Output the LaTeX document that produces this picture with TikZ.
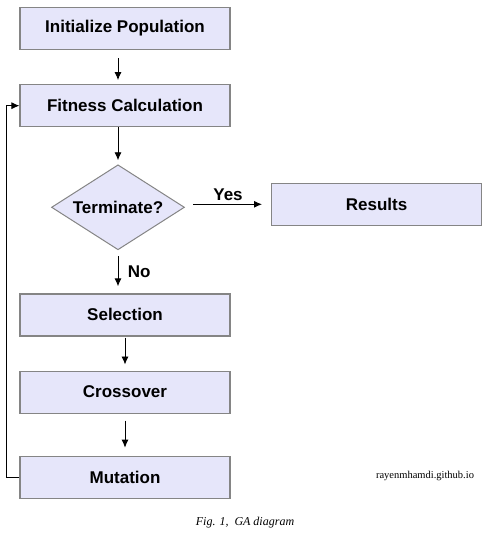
\documentclass[tikz,border=0pt]{standalone}
\usepackage{fontspec}
\setmainfont{Liberation Serif}
\setsansfont{Liberation Sans}
\usepackage{xcolor}
\definecolor{gaFill}{HTML}{E6E6FA}
\definecolor{gaLine}{HTML}{858585}
\usepackage{tikz}
\usetikzlibrary{shapes.geometric,arrows.meta,positioning}
\tikzset{process/.style={rectangle, draw=gaLine, fill=gaFill, line width=1.2pt, minimum width=210pt, minimum height=42pt, font=\sffamily\bfseries\fontsize{17}{19}\selectfont}}
\tikzset{decision/.style={diamond, draw=gaLine, fill=gaFill, line width=1pt, aspect=1.56, minimum width=133pt, minimum height=85pt, inner sep=0pt, font=\sffamily\bfseries\fontsize{17}{19}\selectfont}}
\tikzset{flow/.style={-{Latex[length=8pt,width=7pt]}, line width=0.9pt}}
\tikzset{answer/.style={font=\sffamily\bfseries\fontsize{17}{19}\selectfont}}

\begin{document}
\begin{tikzpicture}[node distance=35pt]
\useasboundingbox (0,0) rectangle (487pt,-540pt);
\node[process](init) at (125pt,-28.5pt){Initialize Population};
\node[process](fitness)[below=34pt of init]{Fitness Calculation};
\node[decision](terminate)[below=37pt of fitness, xshift=-7pt]{Terminate?};
\node[process](results)[right=86pt of terminate, yshift=3pt]{Results};
\node[process](selection)[below=43pt of terminate, xshift=7pt]{Selection};
\node[process](crossover)[below=34pt of selection]{Crossover};
\node[process](mutation)[below=42pt of crossover]{Mutation};
\node(site) at (425pt,-476pt){\fontsize{10.5}{12}\selectfont rayenmhamdi.github.io};
\node(caption) at (245pt,-523pt){\fontsize{12}{14}\selectfont\itshape Fig. 1,\ \ GA diagram};
% arrows
\draw[flow, shorten <=8pt, shorten >=4pt] ([xshift=-7pt]init.south) -- ([xshift=-7pt]fitness.north);
\draw[flow, shorten >=4pt] (fitness.south -| terminate.north) -- (terminate.north);
\draw[flow, shorten <=8pt, shorten >=9pt] (terminate.east |- results.west) -- node[answer, above]{Yes} (results.west);
\draw[flow, shorten <=6pt, shorten >=7pt] (terminate.south) -- node[answer, right, xshift=6pt]{No} (terminate.south |- selection.north);
\draw[flow, shorten <=1pt, shorten >=6pt] (selection) -- (crossover);
\draw[flow, shorten <=7pt, shorten >=8pt] (crossover) -- (mutation);
\draw[flow] (mutation.west) -- ++(-13pt,0) |- (fitness.west);
\end{tikzpicture}
\end{document}
